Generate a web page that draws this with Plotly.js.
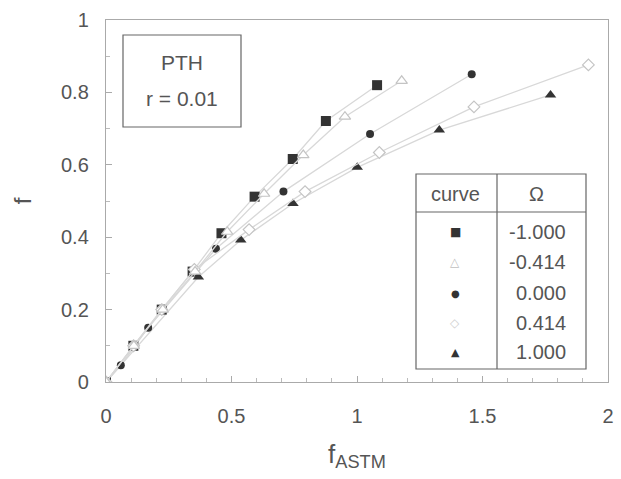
<!DOCTYPE html>
<html><head><meta charset="utf-8">
<script src="https://cdn.plot.ly/plotly-3.0.1.min.js"></script>
<style>body{margin:0;background:#fff}#c{width:621px;height:479px}</style>
</head><body><div id="c"></div>
<script>
// Data
const omegaLabels = ["-1.000", "-0.414", "0.000", "0.414", "1.000"];
const xSq  = [0, 0.109, 0.222, 0.345, 0.460, 0.592, 0.744, 0.876, 1.080];
const ySq  = [0, 0.100, 0.200, 0.305, 0.411, 0.512, 0.616, 0.721, 0.820];
const xTo  = [0, 0.111, 0.226, 0.355, 0.483, 0.630, 0.786, 0.952, 1.178];
const yTo  = [0, 0.100, 0.200, 0.305, 0.415, 0.520, 0.627, 0.733, 0.832];
const xCi  = [0, 0.059, 0.168, 0.438, 0.707, 1.052, 1.457];
const yCi  = [0, 0.046, 0.150, 0.368, 0.526, 0.685, 0.850];
const xDo  = [0, 0.110, 0.222, 0.352, 0.570, 0.793, 1.089, 1.466, 1.922];
const yDo  = [0, 0.100, 0.200, 0.311, 0.421, 0.526, 0.634, 0.760, 0.876];
const xTf  = [0, 0.368, 0.537, 0.745, 1.001, 1.328, 1.771];
const yTf  = [0, 0.290, 0.392, 0.493, 0.593, 0.696, 0.793];

const lineStyle = {color: '#d8d8d8', width: 1.3};
const dark = '#333';
const openC = '#c4c4c4';
const traces = [
  {x: xTf, y: yTf, mode: 'lines+markers', line: lineStyle,
   marker: {symbol: 'triangle-up', size: 10, color: dark}},
  {x: xCi, y: yCi, mode: 'lines+markers', line: lineStyle,
   marker: {symbol: 'circle', size: 8, color: dark}},
  {x: xSq, y: ySq, mode: 'lines+markers', line: lineStyle,
   marker: {symbol: 'square', size: 10, color: dark}},
  {x: xDo, y: yDo, mode: 'lines+markers', line: lineStyle,
   marker: {symbol: 'diamond', size: 9, color: '#fff', line: {color: openC, width: 1.2}}},
  {x: xTo, y: yTo, mode: 'lines+markers', line: lineStyle,
   marker: {symbol: 'triangle-up', size: 10, color: '#fff', line: {color: openC, width: 1.2}}}
];

const txt = '#555';
const fam = 'Liberation Sans, Arial, sans-serif';
const font = {family: fam, size: 20, color: txt};
const boxFont = {family: fam, size: 21, color: txt};
const tabFont = {family: fam, size: 20, color: txt};

// legend table and label box (paper coordinates)
const px = p => (p-106)/502;
const ty = p => (382-p)/362;
const boxLine = {color:'#666', width:1.2};
const shapes = [
  {type:'rect', xref:'paper', yref:'paper', x0:px(123), x1:px(241), y0:ty(127), y1:ty(35), line:boxLine, fillcolor:'#fff'},
  {type:'rect', xref:'paper', yref:'paper', x0:px(416), x1:px(586), y0:ty(369), y1:ty(174), line:boxLine, fillcolor:'#fff'},
  {type:'line', xref:'paper', yref:'paper', x0:px(497), x1:px(497), y0:ty(369), y1:ty(174), line:boxLine},
  {type:'line', xref:'paper', yref:'paper', x0:px(416), x1:px(586), y0:ty(212), y1:ty(212), line:boxLine}
];
const symbols = ['■', '△', '●', '◇', '▲'];
const symColors = [dark, '#c0c0c0', dark, '#d0d0d0', dark];
const symSizes = [12, 12, 10, 12, 11];
const rowY = [232, 262, 293, 323, 352];
const ann = (x, y, text, f, xa) => ({xref:'paper', yref:'paper', x: px(x), y: ty(y), text: text,
  showarrow: false, xanchor: xa || 'center', yanchor: 'middle', font: f});
const annotations = [
  ann(182, 62, 'PTH', boxFont),
  ann(182, 98, 'r = 0.01', boxFont),
  ann(455, 194, 'curve', tabFont),
  ann(536, 194, 'Ω', tabFont)
];
omegaLabels.forEach((t, i) => {
  annotations.push(ann(455, rowY[i], symbols[i], {family:'DejaVu Sans', size:symSizes[i], color:symColors[i]}));
  annotations.push(ann(568, rowY[i], t, tabFont, 'right'));
});

const layout = {
  width: 621, height: 479,
  margin: {l: 106, r: 13, t: 20, b: 97},
  paper_bgcolor: '#fff', plot_bgcolor: '#fff',
  showlegend: false,
  font: font,
  xaxis: {range: [0, 2], tickvals: [0, 0.5, 1, 1.5, 2], ticktext: ['0', '0.5', '1', '1.5', '2'],
    ticks: 'inside', ticklen: 6, tickcolor: '#aaa', showgrid: false, zeroline: false,
    showline: true, linecolor: '#aaa', linewidth: 1.2, mirror: true,
    minor: {dtick: 0.1, ticks: 'inside', ticklen: 4, tickcolor: '#bbb'},
    ticklabelstandoff: 16, tickfont: font,
    title: {text: 'f<sub>ASTM</sub>', font: {family: fam, size: 26, color: txt}, standoff: 18}},
  yaxis: {range: [0, 1], tickvals: [0, 0.2, 0.4, 0.6, 0.8, 1], ticktext: ['0', '0.2', '0.4', '0.6', '0.8', '1'],
    ticks: 'inside', ticklen: 6, tickcolor: '#aaa', showgrid: false, zeroline: false,
    showline: true, linecolor: '#aaa', linewidth: 1.2, mirror: true,
    minor: {dtick: 0.1, ticks: 'inside', ticklen: 4, tickcolor: '#bbb'},
    ticklabelstandoff: 12, tickfont: font,
    title: {text: 'f', font: {family: fam, size: 24, color: txt}, standoff: 22}},
  shapes: shapes,
  annotations: annotations
};
Plotly.newPlot('c', traces, layout, {displayModeBar: false, staticPlot: true});
</script></body></html>
